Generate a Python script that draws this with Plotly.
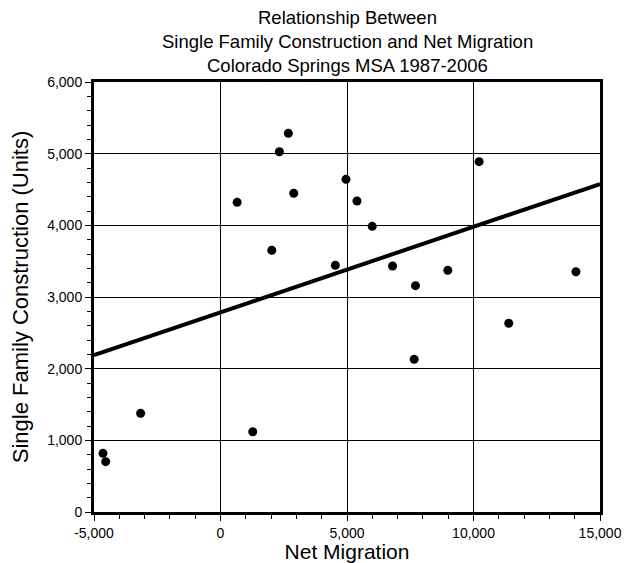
import numpy as np
import plotly.graph_objects as go

# Net migration (x) and single family construction units (y), Colorado Springs MSA 1987-2006
net_migration = [-4645, -4538, -3157, 1275, 2683, 2328, 4960, 2894, 658, 5394,
                 5998, 2026, 4538, 6800, 10221, 7707, 8985, 11393, 7655, 14049]
sf_construction = [819, 702, 1377, 1120, 5284, 5027, 4642, 4447, 4321, 4339,
                   3986, 3651, 3442, 3432, 4888, 3158, 3372, 2633, 2130, 3353]

x_range = [-5000, 15000]
y_range = [0, 6000]
x_tickvals = [-5000, 0, 5000, 10000, 15000]
x_ticktext = ["-5,000", "0", "5,000", "10,000", "15,000"]
y_tickvals = [0, 1000, 2000, 3000, 4000, 5000, 6000]
y_ticktext = ["0", "1,000", "2,000", "3,000", "4,000", "5,000", "6,000"]

title_lines = ["Relationship Between",
               "Single Family Construction and Net Migration",
               "Colorado Springs MSA 1987-2006"]

# least-squares trend line
slope, intercept = np.polyfit(net_migration, sf_construction, 1)
fit_x = np.array(x_range, dtype=float)
fit_y = intercept + slope * fit_x

FONT = "Liberation Sans, Arial, sans-serif"

fig = go.Figure()
fig.add_trace(go.Scatter(x=fit_x, y=fit_y, mode="lines",
                         line=dict(color="black", width=4),
                         showlegend=False, hoverinfo="skip"))
fig.add_trace(go.Scatter(x=net_migration, y=sf_construction, mode="markers",
                         marker=dict(color="black", size=9),
                         showlegend=False))

axis_common = dict(
    showline=True, linecolor="black", linewidth=3, mirror=True,
    showgrid=True, gridcolor="black", gridwidth=1, zeroline=False,
    ticks="outside", ticklen=6, tickwidth=1, tickcolor="black",
    tickfont=dict(family=FONT, size=14, color="black"),
)

fig.update_xaxes(
    range=x_range, tickmode="array", tickvals=x_tickvals, ticktext=x_ticktext,
    minor=dict(dtick=1000, tick0=-5000, ticks="outside", ticklen=4,
               tickcolor="black", showgrid=False),
    title=dict(text="Net Migration", font=dict(family=FONT, size=21, color="black"),
               standoff=2),
    **axis_common,
)
fig.update_yaxes(
    range=y_range, tickmode="array", tickvals=y_tickvals, ticktext=y_ticktext,
    minor=dict(dtick=200, tick0=0, ticks="outside", ticklen=4,
               tickcolor="black", showgrid=False),
    title=dict(text="Single Family Construction (Units)",
               font=dict(family=FONT, size=22, color="black"), standoff=13),
    **axis_common,
)

title_y = [1.1505, 1.0947, 1.0379]
for line, ty in zip(title_lines, title_y):
    fig.add_annotation(text=line, x=0.5, y=ty, xref="paper", yref="paper",
                       xanchor="center", yanchor="middle", showarrow=False,
                       font=dict(family=FONT, size=18.5, color="black"))

fig.update_layout(
    width=633, height=555,
    margin=dict(l=86, r=41, t=74, b=51, autoexpand=False),
    paper_bgcolor="white", plot_bgcolor="white",
)

fig.write_html("out.html")
